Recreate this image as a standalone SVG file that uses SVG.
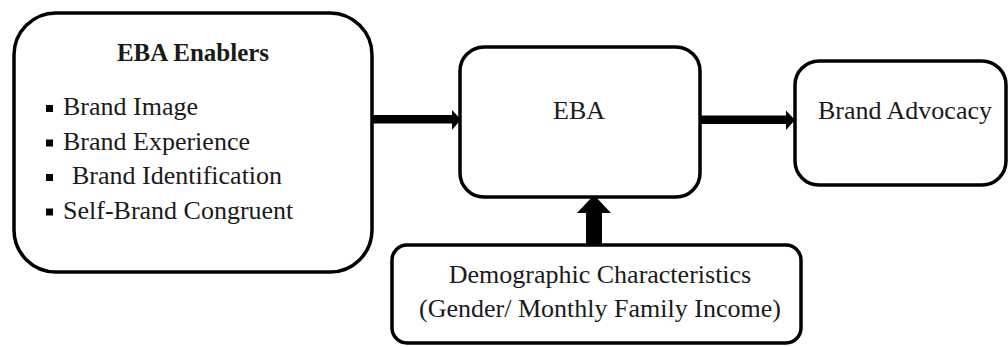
<svg xmlns="http://www.w3.org/2000/svg" width="1008" height="347" viewBox="0 0 1008 347">
<style>
.box{fill:#fff;stroke:#000;stroke-width:3.5}
.t{font-family:"Liberation Serif","Times New Roman",serif;font-size:26px;fill:#1a1a1a}
.b{font-weight:bold;font-size:25px}
.c{text-anchor:middle}
.shaft{fill:#000}
</style>
<rect width="1008" height="347" fill="#fff"/>
<g id="connectors">
  <rect class="shaft" x="373" y="115" width="80" height="8.5"/>
  <polygon class="shaft" points="452,110 461,119.5 452,130"/>
  <rect class="shaft" x="701" y="115.5" width="86" height="8.5"/>
  <polygon class="shaft" points="786,110.5 795,120 786,130"/>
  <rect class="shaft" x="586" y="211" width="16" height="33"/>
  <polygon class="shaft" points="577,213 594,195 611,213"/>
</g>
<g id="enablers">
  <rect class="box" x="14" y="13" width="358" height="259" rx="42" ry="42"/>
  <text class="t b c" x="193" y="61">EBA Enablers</text>
  <rect x="46" y="105" width="7" height="7" fill="#000"/>
  <text class="t" x="63" y="115">Brand Image</text>
  <rect x="46" y="139.5" width="7" height="7" fill="#000"/>
  <text class="t" x="63" y="149.5">Brand Experience</text>
  <rect x="46" y="174" width="7" height="7" fill="#000"/>
  <text class="t" x="72" y="184">Brand Identification</text>
  <rect x="46" y="208.5" width="7" height="7" fill="#000"/>
  <text class="t" x="63" y="218.5">Self-Brand Congruent</text>
</g>
<g id="eba">
  <rect class="box" x="460" y="47" width="240" height="150" rx="24" ry="24"/>
  <text class="t c" x="579" y="119">EBA</text>
</g>
<g id="advocacy">
  <rect class="box" x="795" y="61" width="211" height="124" rx="24" ry="24"/>
  <text class="t c" x="905" y="119">Brand Advocacy</text>
</g>
<g id="demographic">
  <rect class="box" x="392" y="245" width="409" height="98" rx="15" ry="15"/>
  <text class="t c" x="600" y="283">Demographic Characteristics</text>
  <text class="t c" x="600" y="317">(Gender/ Monthly Family Income)</text>
</g>
</svg>
